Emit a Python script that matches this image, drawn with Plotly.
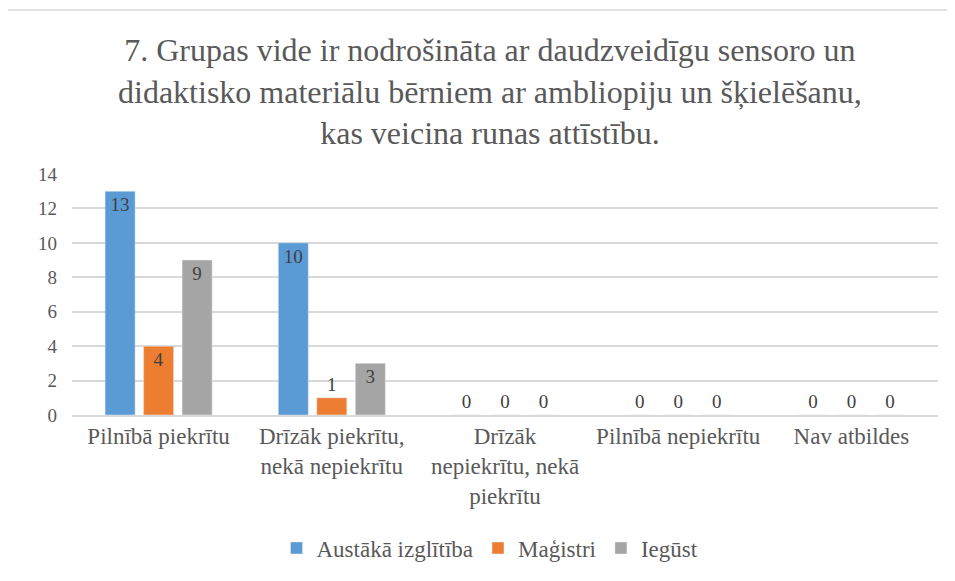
import plotly.graph_objects as go

categories = [
    "Pilnībā piekrītu",
    "Drīzāk piekrītu,<br>nekā nepiekrītu",
    "Drīzāk<br>nepiekrītu, nekā<br>piekrītu",
    "Pilnībā nepiekrītu",
    "Nav atbildes",
]
series_names = ["Austākā izglītība", "Maģistri", "Iegūst"]
austaka = [13, 10, 0, 0, 0]
magistri = [4, 1, 0, 0, 0]
iegust = [9, 3, 0, 0, 0]
colors = ["#5B9BD5", "#ED7D31", "#A5A5A5"]
y_ticks = [0, 2, 4, 6, 8, 10, 12, 14]
title_text = ("7. Grupas vide ir nodrošināta ar daudzveidīgu sensoro un<br>"
              "didaktisko materiālu bērniem ar ambliopiju un šķielēšanu,<br>"
              "kas veicina runas attīstību.")

SERIF = "Liberation Serif"

W, H = 955, 581
OFF = 8  # page body offset
ml, mr, mt, mb = 72 - OFF, 25, 174 - OFF, 581 + OFF - 415
pw = W - ml - mr
ph = H - mt - mb

fig = go.Figure()
for name, vals, col in zip(series_names, [austaka, magistri, iegust], colors):
    fig.add_trace(go.Bar(
        name=name, x=categories, y=vals, marker_color=col,
        text=[str(v) for v in vals],
        textposition=["inside" if v >= 2 else "outside" for v in vals],
        insidetextanchor="end",
        textfont=dict(size=19, color="#404040"),
        cliponaxis=False,
        textangle=0,
    ))

fig.update_layout(
    width=W, height=H,
    margin=dict(l=ml, r=mr, t=mt, b=mb),
    paper_bgcolor="white", plot_bgcolor="white",
    font=dict(family=SERIF, color="#595959"),
    barmode="group", bargap=0.333, bargroupgap=0.22,
    legend=dict(orientation="h", x=(490 - 72) / pw, xanchor="center", y=-0.552, yanchor="middle",
                font=dict(size=23), itemwidth=30, traceorder="normal"),
)
fig.add_annotation(
    text=title_text, showarrow=False, xref="paper", yref="paper",
    x=(490 - 72) / pw, xanchor="center",
    y=1 + (mt - (30 - OFF)) / ph, yanchor="top",
    font=dict(size=32), align="center",
)
fig.update_xaxes(
    tickfont=dict(size=23),
    showline=True, linecolor="#D9D9D9", linewidth=1.5, ticks="",
    showgrid=False, zeroline=False,
)
fig.update_yaxes(
    range=[0, 14], tickvals=y_ticks,
    tickfont=dict(size=19),
    showgrid=True, gridcolor="#D9D9D9", gridwidth=1.5,
    zeroline=False, showline=False, ticks="", ticklabelstandoff=14,
)

fig.add_shape(type="rect", xref="paper", yref="paper",
              x0=(7 - OFF - ml) / pw, x1=(W + 20 - ml) / pw,
              y0=(ph + mt - (H + 20)) / ph, y1=(ph + mt - (10 - OFF)) / ph,
              line=dict(color="#D9D9D9", width=1.5), fillcolor="rgba(0,0,0,0)",
              layer="below")

fig.write_html("out.html")
